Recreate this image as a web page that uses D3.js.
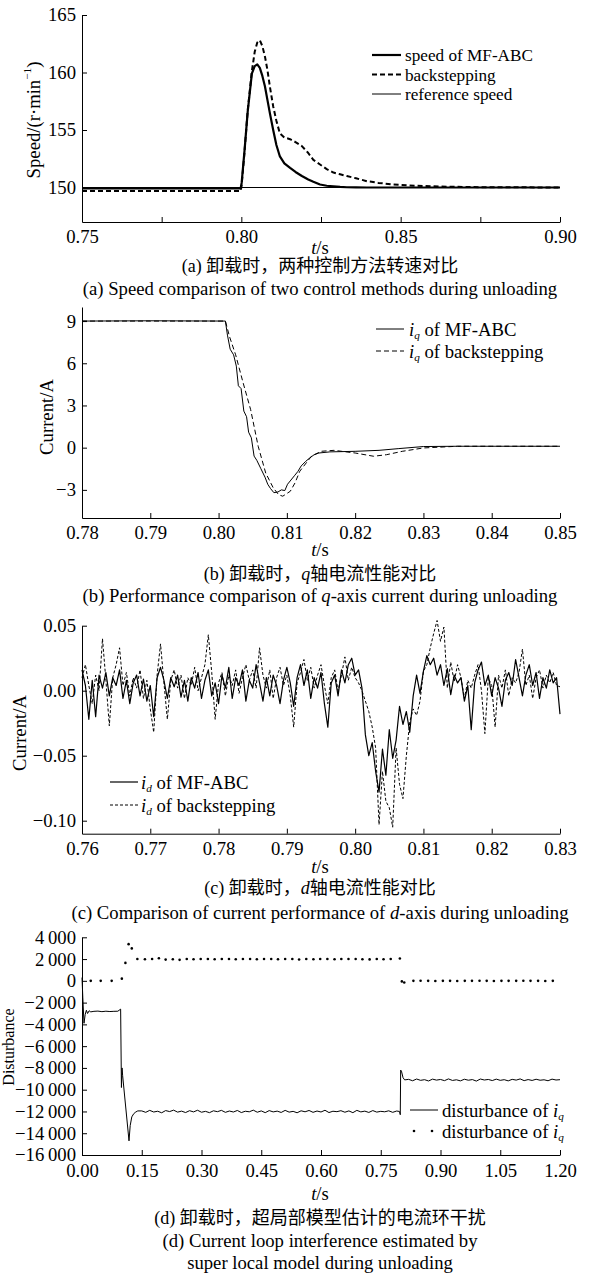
<!DOCTYPE html>
<html>
<head>
<meta charset="utf-8">
<script src="https://cdn.jsdelivr.net/npm/d3@7"></script>
<style>
  body { margin: 0; background: #fff; }
  svg text { font-family: "Liberation Serif", "Times New Roman", "Noto Sans CJK SC", serif; fill: #000; }
</style>
</head>
<body>
<script>
// (a) speed after unloading
const aTime = [0.75, 0.7998, 0.8001, 0.8010, 0.8020, 0.8033, 0.8042, 0.8050, 0.8058, 0.8066, 0.8074, 0.8082, 0.8090, 0.8100, 0.8110, 0.8121, 0.8135, 0.8153, 0.8170, 0.8190, 0.8210, 0.8226, 0.8247, 0.8268, 0.8289, 0.8310, 0.8331, 0.8360, 0.8394, 0.8430, 0.8477, 0.8550, 0.8650, 0.8750, 0.90];
const aSpeedMf = [149.93, 149.93, 150.4, 153.2, 156.6, 159.9, 160.55, 160.7, 160.4, 159.7, 158.8, 157.6, 156.4, 155.0, 153.7, 152.7, 152.1, 151.7, 151.35, 151.0, 150.7, 150.5, 150.26, 150.15, 150.1, 150.05, 150.02, 150.01, 150, 150, 150, 150, 150, 150, 150];
const aSpeedBs = [149.7, 149.7, 150.2, 153.1, 156.7, 160.1, 161.8, 162.6, 162.8, 162.3, 161.4, 160.2, 158.7, 157.05, 155.8, 154.7, 154.35, 154.2, 153.95, 153.6, 153.0, 152.4, 152.0, 151.6, 151.3, 151.15, 151.0, 150.8, 150.55, 150.4, 150.26, 150.15, 150.07, 150.03, 150.0];
const aRefTime = [0.75, 0.90];
const aRef = [150, 150];
const aXTicks = [0.75, 0.775, 0.80, 0.825, 0.85, 0.875, 0.90];
const aYTicks = [150, 155, 160, 165];

// (b) q-axis current
const bTimeMf = [0.78, 0.79, 0.801, 0.8013, 0.8017, 0.8022, 0.8026, 0.8029, 0.8033, 0.8037, 0.8041, 0.8044, 0.8048, 0.8052, 0.8056, 0.8062, 0.8068, 0.8072, 0.8076, 0.8081, 0.8087, 0.8092, 0.8097, 0.8101, 0.8106, 0.8111, 0.8116, 0.8121, 0.8127, 0.8133, 0.8140, 0.8147, 0.8163, 0.82, 0.8235, 0.8263, 0.83, 0.835, 0.84, 0.85];
const bIqMf = [9.0, 9.02, 9.0, 8.0, 7.0, 6.6, 5.8, 4.4, 4.2, 2.6, 2.2, 1.1, 0.7, -0.6, -0.9, -1.5, -2.1, -2.6, -2.9, -3.2, -3.15, -3.0, -3.05, -2.6, -2.3, -2.0, -1.7, -1.3, -1.0, -0.75, -0.5, -0.38, -0.3, -0.26, -0.19, -0.07, 0.08, 0.1, 0.1, 0.1];
const bTimeBs = [0.78, 0.79, 0.801, 0.8016, 0.8025, 0.8036, 0.8047, 0.8058, 0.8069, 0.8080, 0.8088, 0.8094, 0.8105, 0.8112, 0.8119, 0.8136, 0.8150, 0.8169, 0.82, 0.8227, 0.8246, 0.8269, 0.83, 0.835, 0.85];
const bIqBs = [9.0, 9.0, 9.0, 7.9, 6.6, 4.6, 2.7, 0.1, -1.8, -2.85, -3.35, -3.45, -3.1, -2.5, -1.67, -0.61, -0.26, -0.19, -0.38, -0.61, -0.5, -0.26, -0.02, 0.1, 0.1];
const bXTicks = [0.78, 0.79, 0.80, 0.81, 0.82, 0.83, 0.84, 0.85];
const bYTicks = [-3, 0, 3, 6, 9];

// (c) d-axis current, sampled every 0.5 ms from 0.76 s
const cStart = 0.76, cStep = 0.0005;
const cIdMf = [
  0.016, 0.004, -0.022, 0.008, -0.020, 0.012, 0.002, 0.014, -0.004, 0.010,
  0.004, 0.016, -0.006, 0.008, -0.010, 0.006, 0.012, -0.004, 0.009, -0.008,
  0.004, -0.020, 0.010, 0.018, 0.008, -0.006, 0.010, 0.003, 0.012, -0.005,
  0.008, -0.008, 0.010, 0.002, 0.014, -0.006, 0.008, 0.016, -0.004, 0.006,
  -0.010, 0.012, 0.002, 0.018, -0.006, 0.010, 0.004, 0.016, -0.008, 0.008,
  0.002, 0.020, 0.006, -0.008, 0.010, -0.004, 0.012, 0.004, -0.010, 0.008,
  0.018, 0.006, -0.012, 0.010, 0.020, 0.004, 0.016, -0.006, 0.010, 0.002,
  0.014, -0.010, -0.028, 0.006, 0.012, -0.004, 0.016, 0.006, 0.020, 0.025,
  0.012, 0.016, 0.002, -0.034, -0.050, -0.040, -0.062, -0.078, -0.045, -0.065,
  -0.030, -0.052, -0.038, -0.012, -0.026, -0.016, -0.032, -0.004, 0.012, -0.002,
  0.015, 0.027, 0.020, 0.025, 0.012, 0.020, 0.004, 0.017, -0.003, 0.012,
  0.006, 0.010, -0.008, 0.004, -0.030, 0.006, 0.016, 0.022, 0.004, 0.012,
  -0.004, 0.010, 0.002, -0.012, 0.008, 0.014, 0.004, 0.024, 0.010, -0.004,
  0.012, 0.020, 0.004, 0.014, -0.006, 0.010, 0.002, 0.016, 0.006, 0.010,
  -0.018
];
const cIdBs = [
  0.010, 0.020, 0.004, -0.010, 0.012, 0.000, 0.040, 0.008, -0.027, 0.010,
  0.020, 0.033, 0.004, 0.014, -0.004, 0.010, 0.002, 0.016, -0.006, 0.008,
  -0.014, -0.032, 0.012, 0.036, 0.006, -0.022, 0.008, 0.016, 0.002, 0.012,
  -0.006, 0.010, 0.004, 0.018, 0.000, 0.010, 0.020, 0.043, 0.014, -0.022,
  0.006, 0.014, -0.004, 0.012, 0.004, 0.016, -0.002, 0.010, 0.020, 0.008,
  0.016, 0.002, 0.033, 0.012, 0.002, 0.016, -0.006, 0.010, 0.018, 0.004,
  0.012, -0.004, -0.028, 0.006, 0.014, 0.024, 0.008, 0.018, 0.002, 0.012,
  0.020, 0.004, -0.010, 0.010, 0.016, 0.000, 0.012, 0.026, 0.008, 0.018,
  0.010, 0.006, 0.000, -0.008, -0.016, -0.028, -0.044, -0.103, -0.062, -0.085,
  -0.090, -0.105, -0.044, -0.072, -0.083, -0.050, -0.024, -0.014, -0.019, -0.008,
  0.015, 0.020, 0.033, 0.044, 0.054, 0.038, 0.049, 0.002, 0.022, 0.007,
  0.020, 0.010, -0.006, 0.008, 0.002, 0.012, 0.020, 0.000, -0.033, 0.010,
  0.004, -0.028, 0.012, 0.002, 0.016, -0.004, 0.010, 0.006, 0.014, 0.032,
  0.004, 0.012, -0.006, 0.010, 0.016, 0.002, 0.012, 0.006, 0.014, 0.004,
  0.003
];
const cXTicks = [0.76, 0.77, 0.78, 0.79, 0.80, 0.81, 0.82, 0.83];
const cYTicks = [-0.10, -0.05, 0.00, 0.05];

// (d) disturbance estimated by the super local model
const dHeadTime = [0, 0.002, 0.005, 0.008, 0.011, 0.014, 0.018, 0.022, 0.03, 0.04, 0.05, 0.06, 0.07, 0.08, 0.09, 0.097, 0.099, 0.1005, 0.102, 0.118, 0.121, 0.125, 0.13, 0.135, 0.14];
const dHead = [300, -1500, -3900, -3100, -2700, -3000, -2750, -2850, -2800, -2780, -2830, -2790, -2820, -2800, -2790, -2600, -9800, -8000, -8700, -14700, -13300, -12500, -12200, -12050, -11950];
// 10 ms samples, 0.15 s .. 0.79 s
const dMidStart = 0.15;
const dMid = [-11950, -12080, -11900, -12050, -11980, -12120, -11920, -12010, -11880, -12060, -11970, -12100, -11930, -12040, -11890, -12070, -11990, -12110, -11940, -12020, -11900, -12080, -11960, -12050, -11910, -12100, -11980, -12030, -11880, -12070, -11950, -12110, -11920, -12040, -11970, -12090, -11900, -12060, -11990, -12120, -11940, -12030, -11910, -12080, -11960, -12050, -11890, -12100, -11980, -12020, -11930, -12070, -11950, -12110, -11900, -12040, -11970, -12090, -11920, -12060, -11990, -12030, -11940, -12080, -11960];
const dStepTime = [0.797, 0.799, 0.800, 0.802, 0.806, 0.810];
const dStep = [-12000, -12300, -8200, -8300, -8900, -9100];
// 10 ms samples, 0.82 s .. 1.20 s
const dTailStart = 0.82;
const dTail = [-9050, -9180, -9020, -9140, -9080, -9200, -9030, -9120, -9060, -9170, -9010, -9150, -9090, -9190, -9040, -9130, -9070, -9210, -9020, -9110, -9060, -9160, -9030, -9140, -9080, -9190, -9050, -9120, -9010, -9170, -9070, -9150, -9040, -9130, -9090, -9180, -9030, -9110, -9080];
const dDotTime = [0.022, 0.047, 0.0745, 0.100, 0.109, 0.117, 0.125, 0.139, 0.158, 0.176, 0.193, 0.210, 0.228, 0.245, 0.263, 0.280, 0.298, 0.316, 0.333, 0.351, 0.369, 0.386, 0.404, 0.422, 0.439, 0.457, 0.475, 0.492, 0.510, 0.528, 0.545, 0.563, 0.581, 0.598, 0.616, 0.634, 0.651, 0.669, 0.687, 0.704, 0.722, 0.740, 0.757, 0.775, 0.798, 0.803, 0.809, 0.832, 0.850, 0.869, 0.887, 0.906, 0.924, 0.942, 0.961, 0.979, 0.998, 1.016, 1.034, 1.053, 1.071, 1.090, 1.108, 1.126, 1.145, 1.163, 1.182];
const dDot = [0, 0, 0, 200, 1650, 3370, 2980, 2000, 1980, 2000, 2080, 1950, 1990, 1930, 2000, 1990, 2010, 2000, 1990, 2000, 2010, 1990, 2000, 2010, 1980, 2000, 2010, 1990, 2000, 2000, 1960, 2000, 1990, 2010, 2000, 1980, 2000, 2010, 2000, 1990, 1970, 2000, 1990, 2000, 2050, -50, -150, 0, 10, 0, -10, 0, 0, -20, 0, 0, 10, 0, -10, 0, 0, 0, 10, 0, 0, -10, 0];
const dXTicks = [0, 0.15, 0.30, 0.45, 0.60, 0.75, 0.90, 1.05, 1.20];
const dYTicks = [-16000, -14000, -12000, -10000, -8000, -6000, -4000, -2000, 0, 2000, 4000];

const W = 595, H = 1273;
const L = 82, R = 560, FS = 18.7, CJK = 18, LEG = 17.2;

const svg = d3.select('body').append('svg')
  .attr('width', W).attr('height', H);
svg.append('rect').attr('width', W).attr('height', H).attr('fill', '#fff');

const zip = (t, v) => t.map((d, i) => [d, v[i]]);
const grid = (start, step, v) => v.map((d, i) => [start + i * step, d]);

function axes(x, y, o) {
  const gx = svg.append('g')
    .attr('transform', `translate(0,${y.range()[0]})`)
    .call(d3.axisBottom(x).tickValues(o.xTicks).tickFormat(o.xFmt)
      .tickSizeInner(-5).tickSizeOuter(0).tickPadding(o.xPad || 8));
  const gy = svg.append('g')
    .attr('transform', `translate(${L},0)`)
    .call(d3.axisLeft(y).tickValues(o.yTicks).tickFormat(o.yFmt)
      .tickSizeInner(-5).tickSizeOuter(0).tickPadding(6));
  [gx, gy].forEach(g => {
    g.attr('font-family', null).attr('font-size', FS);
    g.selectAll('path,line').attr('stroke', '#000').attr('stroke-width', 1);
    g.selectAll('text').attr('fill', '#000');
  });
}

function label(x, y, parts, opts = {}) {
  const size = opts.size || FS;
  const t = svg.append('text')
    .attr('x', x).attr('y', y)
    .attr('text-anchor', opts.anchor || 'middle')
    .attr('dominant-baseline', 'central')
    .attr('font-size', size);
  if (opts.rotate) t.attr('transform', `rotate(-90,${x},${y})`);
  parts.forEach(p => {
    if (typeof p === 'string') { t.append('tspan').text(p); return; }
    const s = t.append('tspan').text(p.t);
    if (p.i) s.attr('font-style', 'italic');
    if (p.sub) s.attr('font-size', size * 0.6).attr('dy', 6);
    if (p.sup) s.attr('font-size', size * 0.6).attr('dy', -6);
    if (p.back) s.attr('dy', p.back);
  });
  return t;
}

function path(data, x, y, w, dash) {
  svg.append('path').datum(data)
    .attr('d', d3.line().x(d => x(d[0])).y(d => y(d[1])))
    .attr('fill', 'none').attr('stroke', '#000')
    .attr('stroke-width', w)
    .attr('stroke-linejoin', 'round')
    .attr('stroke-dasharray', dash || null);
}

function legendLine(x1, x2, y, w, dash) {
  svg.append('line').attr('x1', x1).attr('x2', x2).attr('y1', y).attr('y2', y)
    .attr('stroke', '#000').attr('stroke-width', w)
    .attr('stroke-dasharray', dash || null);
}

const f2 = d3.format('.2f');
const fThou = d3.formatLocale({ decimal: '.', thousands: '\u2009', grouping: [3], currency: ['', ''], minus: '\u2212' }).format(',');

// ---------- (a)
{
  const x = d3.scaleLinear().domain([0.75, 0.90]).range([L, R]);
  const y = d3.scaleLinear().domain([147, 165]).range([222, 15]);
  path(zip(aRefTime, aRef), x, y, 1);
  path(zip(aTime, aSpeedBs), x, y, 2, '5,3');
  path(zip(aTime, aSpeedMf), x, y, 2.2);
  axes(x, y, {
    xTicks: aXTicks, xFmt: d => [0.75, 0.8, 0.85, 0.9].some(v => Math.abs(v - d) < 1e-6) ? f2(d) : '',
    yTicks: aYTicks, yFmt: d3.format('d'), xPad: 8
  });
  legendLine(372, 401, 55, 2.2);
  legendLine(372, 401, 74.5, 2, '5,3');
  legendLine(372, 401, 94, 1);
  label(405, 55, ['speed of MF-ABC'], { anchor: 'start', size: LEG });
  label(405, 74.5, ['backstepping'], { anchor: 'start', size: LEG });
  label(405, 94, ['reference speed'], { anchor: 'start', size: LEG });
  label(33, 120, ['Speed/(r·min', { t: '\u22121', sup: true }, { t: ')', back: 6 }], { rotate: true });
  label(320, 247, [{ t: 't', i: true }, '/s']);
  label(320, 266, ['(a) 卸载时，两种控制方法转速对比'], { size: CJK });
  label(320, 288, ['(a) Speed comparison of two control methods during unloading']);
}

// ---------- (b)
{
  const x = d3.scaleLinear().domain([0.78, 0.85]).range([L, R]);
  const y = d3.scaleLinear().domain([-5, 10]).range([518, 307]);
  path(zip(bTimeBs, bIqBs), x, y, 1, '5,3');
  path(zip(bTimeMf, bIqMf), x, y, 1);
  axes(x, y, { xTicks: bXTicks, xFmt: f2, yTicks: bYTicks, yFmt: d3.format('d') });
  legendLine(376, 404, 329, 1);
  legendLine(376, 404, 351, 1, '5,3');
  label(409, 329, [{ t: 'i', i: true }, { t: 'q', i: true, sub: true }, { t: ' of MF-ABC', back: -6 }], { anchor: 'start' });
  label(409, 351, [{ t: 'i', i: true }, { t: 'q', i: true, sub: true }, { t: ' of backstepping', back: -6 }], { anchor: 'start' });
  label(46, 417, ['Current/A'], { rotate: true });
  label(320, 549, [{ t: 't', i: true }, '/s']);
  label(320, 574, ['(b) 卸载时，', { t: 'q', i: true }, '轴电流性能对比'], { size: CJK });
  label(320, 595, ['(b) Performance comparison of ', { t: 'q', i: true }, '-axis current during unloading']);
}

// ---------- (c)
{
  const x = d3.scaleLinear().domain([0.76, 0.83]).range([L, R]);
  const y = d3.scaleLinear().domain([-0.11, 0.05]).range([833.7, 625.7]);
  path(grid(cStart, cStep, cIdBs), x, y, 1, '3,2');
  path(grid(cStart, cStep, cIdMf), x, y, 1.2);
  axes(x, y, { xTicks: cXTicks, xFmt: f2, yTicks: cYTicks, yFmt: f2 });
  legendLine(110, 138, 782, 1.2);
  legendLine(110, 138, 805, 1, '3,2');
  label(141, 782, [{ t: 'i', i: true }, { t: 'd', i: true, sub: true }, { t: ' of MF-ABC', back: -6 }], { anchor: 'start' });
  label(141, 805, [{ t: 'i', i: true }, { t: 'd', i: true, sub: true }, { t: ' of backstepping', back: -6 }], { anchor: 'start' });
  label(19, 733, ['Current/A'], { rotate: true });
  label(320, 866, [{ t: 't', i: true }, '/s']);
  label(320, 888, ['(c) 卸载时，', { t: 'd', i: true }, '轴电流性能对比'], { size: CJK });
  label(320, 912, ['(c) Comparison of current performance of ', { t: 'd', i: true }, '-axis during unloading']);
}

// ---------- (d)
{
  const x = d3.scaleLinear().domain([0, 1.2]).range([L, R]);
  const y = d3.scaleLinear().domain([-16000, 4000]).range([1155, 937.3]);
  const solid = zip(dHeadTime, dHead)
    .concat(grid(dMidStart, 0.01, dMid))
    .concat(zip(dStepTime, dStep))
    .concat(grid(dTailStart, 0.01, dTail));
  path(solid, x, y, 1);
  svg.append('g').selectAll('circle')
    .data(zip(dDotTime, dDot))
    .join('circle')
    .attr('cx', d => x(d[0])).attr('cy', d => y(d[1]))
    .attr('r', 1.3).attr('fill', '#000');
  axes(x, y, { xTicks: dXTicks, xFmt: f2, yTicks: dYTicks, yFmt: fThou, xPad: 9 });
  legendLine(410, 438, 1110, 1);
  svg.append('circle').attr('cx', 414).attr('cy', 1131).attr('r', 1.3).attr('fill', '#000');
  svg.append('circle').attr('cx', 432).attr('cy', 1131).attr('r', 1.3).attr('fill', '#000');
  label(442, 1110, ['disturbance of ', { t: 'i', i: true }, { t: 'q', i: true, sub: true }], { anchor: 'start' });
  label(442, 1131, ['disturbance of ', { t: 'i', i: true }, { t: 'q', i: true, sub: true }], { anchor: 'start' });
  label(8, 1047, ['Disturbance'], { rotate: true, size: 16 });
  label(320, 1193, [{ t: 't', i: true }, '/s']);
  label(320, 1218, ['(d) 卸载时，超局部模型估计的电流环干扰'], { size: CJK });
  label(320, 1240, ['(d) Current loop interference estimated by']);
  label(320, 1262, ['super local model during unloading']);
}
</script>
</body>
</html>
